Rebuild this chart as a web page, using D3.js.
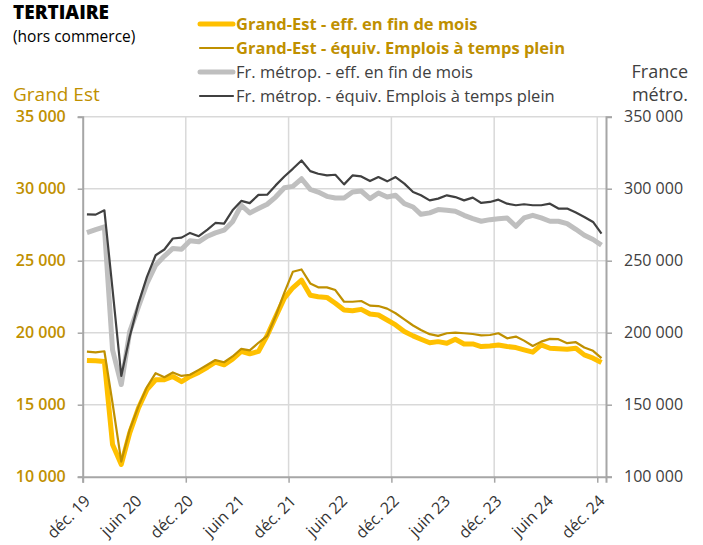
<!DOCTYPE html>
<html>
<head>
<meta charset="utf-8">
<script src="https://cdn.jsdelivr.net/npm/d3@7"></script>
<style>
  body { margin: 0; background: #fff; }
  text { font-family: "Open Sans", sans-serif; }
</style>
</head>
<body>
<div id="chart"></div>
<script>
// monthly values, déc. 2019 -> déc. 2024
var geEff = [18070, 18050, 18000, 12230, 10850, 13040, 14770, 16040, 16730, 16730,
  16960, 16600, 16960, 17240, 17600, 17950, 17770, 18160, 18700, 18530,
  18700, 19800, 21100, 22400, 23120, 23650, 22600, 22500, 22450, 22040,
  21580, 21530, 21620, 21300, 21230, 20880, 20540, 20080, 19780, 19550,
  19300, 19380, 19270, 19550, 19220, 19220, 19040, 19080, 19150, 19040,
  18970, 18810, 18650, 19150, 18920, 18880, 18850, 18920, 18460, 18230, 17930];

var geEtp = [18690, 18640, 18710, 15100, 11050, 13270, 14880, 16220, 17190, 16910,
  17240, 17000, 17080, 17420, 17770, 18100, 17950, 18350, 18880, 18770,
  19300, 19780, 21160, 22780, 24230, 24390, 23420, 23150, 23150, 22960,
  22150, 22150, 22200, 21880, 21850, 21670, 21350, 20930, 20500, 20190,
  19900, 19780, 19960, 20000, 19960, 19910, 19820, 19840, 19960, 19610,
  19730, 19450, 19080, 19380, 19570, 19550, 19270, 19340, 18970, 18740, 18230];

var frEff = [269500, 271600, 273500, 188000, 164000, 200700, 218000, 234200, 246900, 253200,
  258500, 258000, 263800, 263100, 267000, 269300, 271200, 277000, 288500, 283200,
  286200, 289200, 294200, 300700, 301600, 306900, 299500, 297700, 294700, 293500,
  293500, 297700, 298400, 293100, 297000, 294200, 295400, 289600, 287300, 282200,
  283200, 285500, 285000, 284300, 281500, 279200, 277400, 278500, 279200, 279700,
  273900, 279700, 281500, 279700, 277400, 277400, 275800, 271800, 267700, 264700, 260800];

var frEtp = [282200, 282000, 285000, 230000, 170000, 197300, 220400, 238800, 253800, 257800,
  265400, 266000, 269300, 267000, 271600, 276200, 275800, 285000, 291500, 290000,
  295700, 295800, 302300, 308500, 313800, 319600, 312200, 310400, 309200, 309700,
  303000, 309200, 308500, 305300, 308100, 305100, 308100, 303500, 297700, 295400,
  291900, 293100, 295400, 294200, 291900, 293800, 290100, 290800, 292400, 289600,
  288500, 289200, 288500, 288500, 289600, 286200, 286200, 283400, 280400, 276900, 268800];

var xLabels = ["déc. 19", "juin 20", "déc. 20", "juin 21", "déc. 21", "juin 22",
  "déc. 22", "juin 23", "déc. 23", "juin 24", "déc. 24"];
var leftTicks = [10000, 15000, 20000, 25000, 30000, 35000];
var rightTicks = [100000, 150000, 200000, 250000, 300000, 350000];

var legendNames = ["Grand-Est - eff. en fin de mois",
  "Grand-Est - équiv. Emplois à temps plein",
  "Fr. métrop. - eff. en fin de mois",
  "Fr. métrop.  - équiv. Emplois à temps plein"];

var months = geEff.map(function(d, i) { return new Date(2019, 11 + i, 16); });
var labelDates = xLabels.map(function(d, i) { return new Date(2019, 11 + 6 * i, 1); });

var width = 703, height = 545;
var yTop = 116.7, yBot = 476.7;

var fr = d3.formatLocale({decimal: ",", thousands: "\u00a0", grouping: [3], currency: ["", " €"]});
var fmt = fr.format(",d");

var x = d3.scaleTime()
  .domain([new Date(2019, 11, 1), new Date(2025, 0, 1)])
  .range([82.7, 606]);
var yL = d3.scaleLinear().domain([10000, 35000]).range([yBot, yTop]);
var yR = d3.scaleLinear().domain([100000, 350000]).range([yBot, yTop]);

var svg = d3.select("#chart").append("svg")
  .attr("width", width)
  .attr("height", height);

var gold = "#bf9000", dark = "#404040";

// grid
svg.append("g")
  .selectAll("line")
  .data(leftTicks.slice(1))
  .enter().append("line")
  .attr("x1", x.range()[0]).attr("x2", x.range()[1])
  .attr("y1", function(d) { return yL(d); })
  .attr("y2", function(d) { return yL(d); })
  .attr("stroke", "#d9d9d9").attr("stroke-width", 1.5);

var yearDates = labelDates.filter(function(d, i) { return i % 2 == 0; });
svg.append("g")
  .selectAll("line")
  .data(yearDates.slice(1))
  .enter().append("line")
  .attr("x1", function(d) { return x(d); })
  .attr("x2", function(d) { return x(d); })
  .attr("y1", yTop).attr("y2", yBot)
  .attr("stroke", "#d9d9d9").attr("stroke-width", 1.5);

// axes
var axisColor = "#a6a6a6";
var gx = svg.append("g")
  .attr("transform", "translate(0," + yBot + ")")
  .call(d3.axisBottom(x).tickValues(yearDates).tickSize(6).tickFormat(""));
var gl = svg.append("g")
  .attr("transform", "translate(82.7,0)")
  .call(d3.axisLeft(yL).tickValues(leftTicks).tickSize(5).tickPadding(12).tickFormat(fmt));
var gr = svg.append("g")
  .attr("transform", "translate(606,0)")
  .call(d3.axisRight(yR).tickValues(rightTicks).tickSize(6).tickPadding(12).tickFormat(fmt));

[gx, gl, gr].forEach(function(g) {
  g.select(".domain").attr("stroke", axisColor).attr("stroke-width", 2);
  g.selectAll(".tick line").attr("stroke", axisColor).attr("stroke-width", 1.5);
});
gl.selectAll(".tick text")
  .attr("fill", gold).attr("font-size", 16).attr("font-weight", 600)
  .style("font-family", "'Open Sans', sans-serif");
gr.selectAll(".tick text")
  .attr("fill", dark).attr("font-size", 16)
  .style("font-family", "'Open Sans', sans-serif");

// rotated x labels
svg.append("g")
  .selectAll("text")
  .data(labelDates)
  .enter().append("text")
  .attr("transform", function(d) { return "translate(" + (x(d) + 8.5) + ",502) rotate(-45)"; })
  .attr("text-anchor", "end")
  .attr("font-size", 16)
  .attr("fill", "#333")
  .text(function(d, i) { return xLabels[i]; });

// lines
var series = [
  {values: geEff, y: yL, color: "#ffc000", w: 5},
  {values: geEtp, y: yL, color: gold, w: 2.2},
  {values: frEff, y: yR, color: "#bfbfbf", w: 5},
  {values: frEtp, y: yR, color: dark, w: 2.2}
];

series.forEach(function(s) {
  var line = d3.line()
    .x(function(d, i) { return x(months[i]); })
    .y(function(d) { return s.y(d); });
  svg.append("path")
    .datum(s.values)
    .attr("d", line)
    .attr("fill", "none")
    .attr("stroke", s.color)
    .attr("stroke-width", s.w)
    .attr("stroke-linejoin", "round");
});

// titles
svg.append("text").attr("x", 13).attr("y", 19)
  .attr("font-size", 19).attr("font-weight", 800).attr("fill", "#000")
  .text("TERTIAIRE");
svg.append("text").attr("x", 13).attr("y", 42)
  .attr("font-size", 15.5).attr("fill", "#000")
  .text("(hors commerce)");
svg.append("text").attr("x", 13).attr("y", 101)
  .attr("font-size", 19).attr("fill", gold)
  .text("Grand Est");
svg.append("text").attr("x", 688).attr("y", 78)
  .attr("font-size", 18).attr("fill", dark).attr("text-anchor", "end")
  .text("France");
svg.append("text").attr("x", 688).attr("y", 101)
  .attr("font-size", 18).attr("fill", dark).attr("text-anchor", "end")
  .text("métro.");

// legend
var legend = svg.append("g")
  .selectAll("g")
  .data(series)
  .enter().append("g")
  .attr("transform", function(d, i) { return "translate(200," + (24 + i * 24) + ")"; });

legend.append("line")
  .attr("x1", 0).attr("x2", 33)
  .attr("stroke", function(d) { return d.color; })
  .attr("stroke-width", function(d) { return d.w; })
  .attr("stroke-linecap", "round");

legend.append("text")
  .attr("x", 36).attr("y", 5.5)
  .attr("font-size", 16.5)
  .attr("font-weight", function(d, i) { return i < 2 ? 700 : 400; })
  .attr("fill", function(d, i) { return i < 2 ? gold : dark; })
  .text(function(d, i) { return legendNames[i]; });
</script>
</body>
</html>
